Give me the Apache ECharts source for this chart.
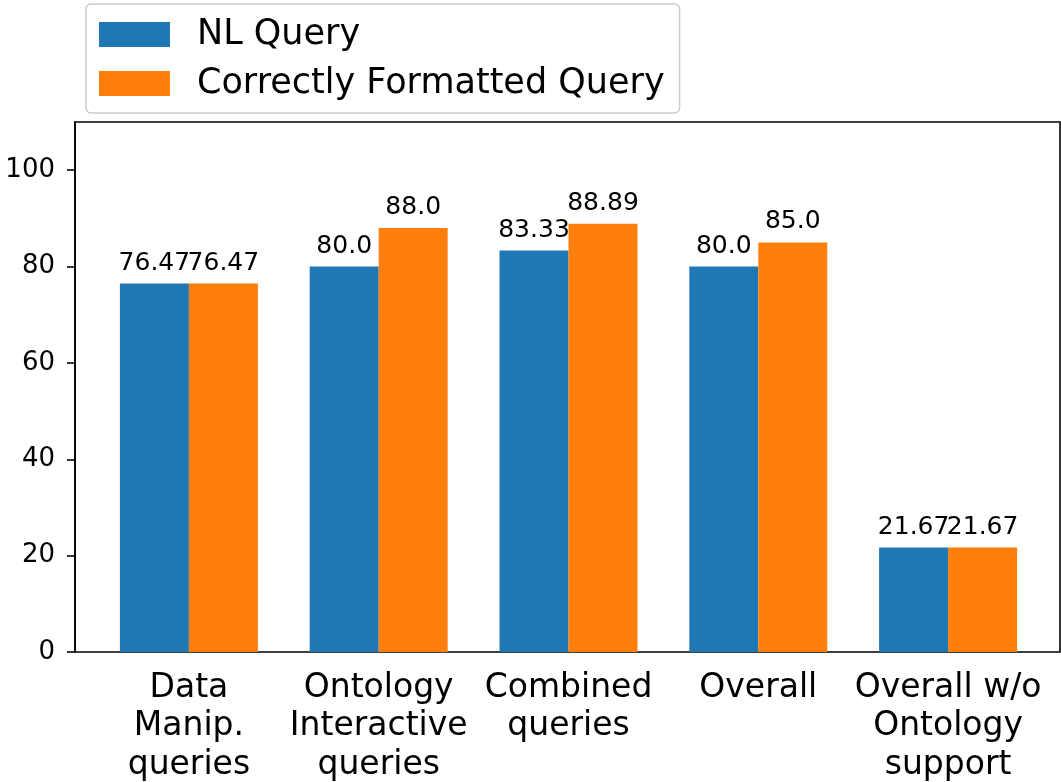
<!DOCTYPE html>
<html>
<head>
<meta charset="utf-8">
<script src="https://cdn.jsdelivr.net/npm/echarts@6/dist/echarts.min.js"></script>
<style>
  html, body { margin: 0; padding: 0; background: #fff; }
  #chart { width: 1061px; height: 782px; }
</style>
</head>
<body>
<div id="chart"></div>
<script>
const categories = [
  'Data\nManip.\nqueries',
  'Ontology\nInteractive\nqueries',
  'Combined\nqueries',
  'Overall',
  'Overall w/o\nOntology\nsupport'
]
const nlQuery = [76.47, 80.0, 83.33, 80.0, 21.67]
const formattedQuery = [76.47, 88.0, 88.89, 85.0, 21.67]
const yTicks = [0, 20, 40, 60, 80, 100]

const font = 'DejaVu Sans'
// matplotlib prints 80.0 rather than 80
const fmt = (v) => Number.isInteger(v) ? v.toFixed(1) : String(v)

const chart = echarts.init(document.getElementById('chart'))
chart.setOption({
  animation: false,
  textStyle: { fontFamily: font },
  legend: {
    orient: 'vertical',
    left: 86,
    top: 4,
    padding: [13, 15, 12, 13],
    itemWidth: 71,
    itemHeight: 25,
    itemGap: 14,
    backgroundColor: '#fff',
    borderColor: '#cccccc',
    borderWidth: 1.5,
    borderRadius: 5,
    icon: 'rect',
    textStyle: { fontSize: 35, color: '#000', fontFamily: font, padding: [0, 0, 0, 22] },
    data: ['NL Query', 'Correctly Formatted Query']
  },
  grid: [
    // frame + y axis
    { left: 75, top: 122, width: 985, bottom: 130, outerBoundsMode: 'none',
      show: true, borderColor: '#000', borderWidth: 1.6 },
    // bars, narrower so group spacing matches
    { left: 94, top: 122, width: 949, bottom: 130, outerBoundsMode: 'none' }
  ],
  xAxis: [
    { gridIndex: 0, type: 'value', show: false, min: 0, max: 1 },
    {
      gridIndex: 1,
      type: 'category',
      data: categories,
      axisLine: { show: false },
      axisTick: { alignWithLabel: true, length: 8, lineStyle: { color: '#000', width: 1.6 } },
      axisLabel: { color: '#000', fontSize: 33, lineHeight: 38.5, margin: 17, interval: 0, fontFamily: font }
    }
  ],
  yAxis: [
    {
      gridIndex: 0,
      type: 'value',
      min: 0,
      max: 110,
      splitLine: { show: false },
      axisLine: { show: true, lineStyle: { color: '#000', width: 1.6 } },
      axisTick: { show: true, length: 8, customValues: yTicks, lineStyle: { color: '#000', width: 1.6 } },
      axisLabel: { color: '#000', fontSize: 26, margin: 20, customValues: yTicks, fontFamily: font }
    },
    { gridIndex: 1, type: 'value', min: 0, max: 110, show: false }
  ],
  series: [
    {
      name: 'NL Query',
      type: 'bar',
      xAxisIndex: 1,
      yAxisIndex: 1,
      data: nlQuery,
      barWidth: 69,
      barGap: '0%',
      itemStyle: { color: '#1f77b4' },
      label: { show: true, position: 'top', distance: 8, color: '#000', fontSize: 25, fontFamily: font,
        formatter: (p) => fmt(p.value) }
    },
    {
      name: 'Correctly Formatted Query',
      type: 'bar',
      xAxisIndex: 1,
      yAxisIndex: 1,
      data: formattedQuery,
      barWidth: 69,
      barGap: '0%',
      itemStyle: { color: '#ff7f0e' },
      label: { show: true, position: 'top', distance: 8, color: '#000', fontSize: 25, fontFamily: font,
        formatter: (p) => fmt(p.value) }
    }
  ]
})
</script>
</body>
</html>
